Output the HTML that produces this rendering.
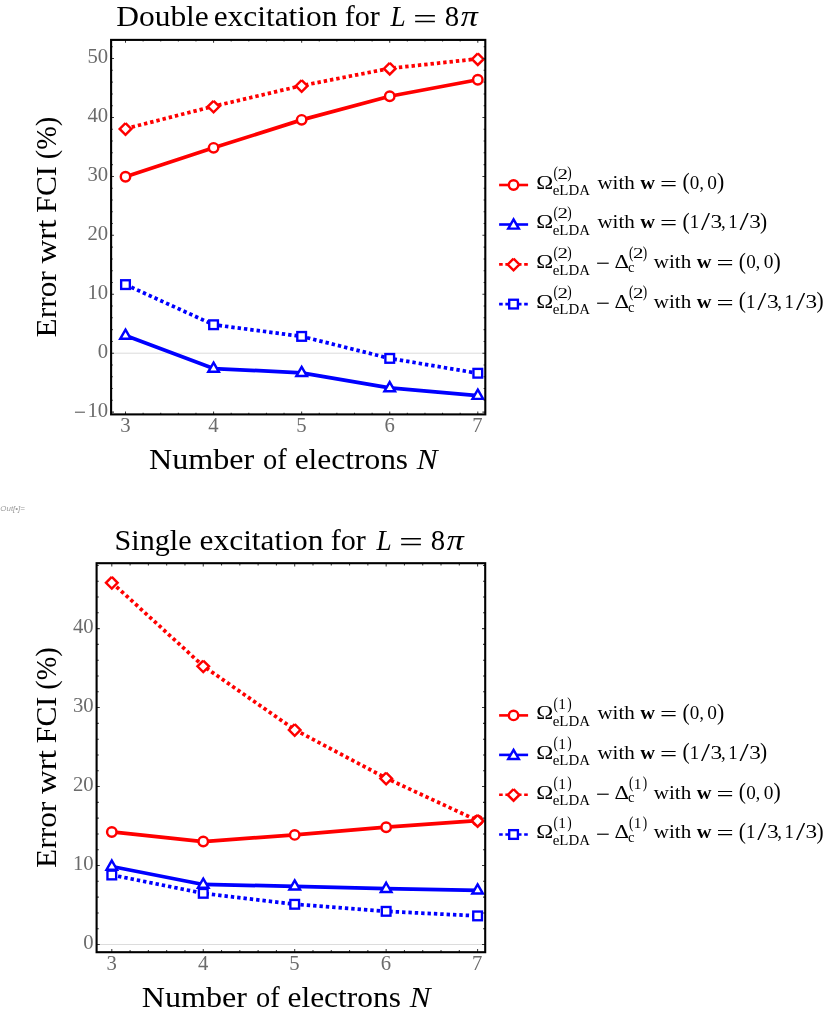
<!DOCTYPE html>
<html><head><meta charset="utf-8"><title>Excitation errors</title>
<style>html,body{margin:0;padding:0;background:#fff}svg{display:block;will-change:transform}text{font-family:"Liberation Serif",serif;white-space:pre;font-kerning:none}</style>
</head><body>
<svg width="830" height="1021" viewBox="0 0 830 1021">
<rect width="830" height="1021" fill="#fff"/>
<line x1="111.1" x2="485.3" y1="353.20" y2="353.20" stroke="#cdcdcd" stroke-width="0.7"/>
<clipPath id="c1"><rect x="111.1" y="39.9" width="374.20000000000005" height="374.5"/></clipPath>
<g clip-path="url(#c1)">
<path d="M125.50,176.70L213.57,147.83L301.65,119.84L389.73,96.27L477.80,79.76" fill="none" stroke="#ff0000" stroke-width="3.75" stroke-linejoin="round"/>
<circle cx="125.50" cy="176.70" r="4.72" fill="#fff" stroke="#ff0000" stroke-width="2.45"/>
<circle cx="213.57" cy="147.83" r="4.72" fill="#fff" stroke="#ff0000" stroke-width="2.45"/>
<circle cx="301.65" cy="119.84" r="4.72" fill="#fff" stroke="#ff0000" stroke-width="2.45"/>
<circle cx="389.73" cy="96.27" r="4.72" fill="#fff" stroke="#ff0000" stroke-width="2.45"/>
<circle cx="477.80" cy="79.76" r="4.72" fill="#fff" stroke="#ff0000" stroke-width="2.45"/>
<path d="M125.50,335.52L213.57,368.52L301.65,372.82L389.73,387.97L477.80,395.63" fill="none" stroke="#0000ff" stroke-width="3.75" stroke-linejoin="round"/>
<path d="M125.50,329.62L130.78,338.77L120.22,338.77Z" fill="#fff" stroke="#0000ff" stroke-width="2.45" stroke-linejoin="miter" stroke-miterlimit="10"/>
<path d="M213.57,362.62L218.86,371.77L208.29,371.77Z" fill="#fff" stroke="#0000ff" stroke-width="2.45" stroke-linejoin="miter" stroke-miterlimit="10"/>
<path d="M301.65,366.92L306.93,376.07L296.37,376.07Z" fill="#fff" stroke="#0000ff" stroke-width="2.45" stroke-linejoin="miter" stroke-miterlimit="10"/>
<path d="M389.73,382.07L395.01,391.22L384.44,391.22Z" fill="#fff" stroke="#0000ff" stroke-width="2.45" stroke-linejoin="miter" stroke-miterlimit="10"/>
<path d="M477.80,389.73L483.08,398.88L472.52,398.88Z" fill="#fff" stroke="#0000ff" stroke-width="2.45" stroke-linejoin="miter" stroke-miterlimit="10"/>
<path d="M125.50,128.68L213.57,106.28L301.65,85.66L389.73,68.39L477.80,58.84" fill="none" stroke="#ff0000" stroke-width="3.75" stroke-linejoin="round" stroke-dasharray="3.4 2.97"/>
<path d="M125.50,123.18L131.30,128.98L125.50,134.78L119.70,128.98L125.50,123.18" fill="#fff" stroke="#ff0000" stroke-width="2.45" stroke-linejoin="miter"/>
<path d="M213.57,100.78L219.38,106.58L213.57,112.38L207.77,106.58L213.57,100.78" fill="#fff" stroke="#ff0000" stroke-width="2.45" stroke-linejoin="miter"/>
<path d="M301.65,80.16L307.45,85.96L301.65,91.76L295.85,85.96L301.65,80.16" fill="#fff" stroke="#ff0000" stroke-width="2.45" stroke-linejoin="miter"/>
<path d="M389.73,62.89L395.53,68.69L389.73,74.49L383.93,68.69L389.73,62.89" fill="#fff" stroke="#ff0000" stroke-width="2.45" stroke-linejoin="miter"/>
<path d="M477.80,53.34L483.60,59.14L477.80,64.94L472.00,59.14L477.80,53.34" fill="#fff" stroke="#ff0000" stroke-width="2.45" stroke-linejoin="miter"/>
<path d="M125.50,284.61L213.57,324.74L301.65,336.40L389.73,358.39L477.80,373.24" fill="none" stroke="#0000ff" stroke-width="3.75" stroke-linejoin="round" stroke-dasharray="3.4 2.97"/>
<rect x="121.15" y="280.26" width="8.7" height="8.7" fill="#fff" stroke="#0000ff" stroke-width="2.35"/>
<rect x="209.22" y="320.39" width="8.7" height="8.7" fill="#fff" stroke="#0000ff" stroke-width="2.35"/>
<rect x="297.30" y="332.05" width="8.7" height="8.7" fill="#fff" stroke="#0000ff" stroke-width="2.35"/>
<rect x="385.38" y="354.04" width="8.7" height="8.7" fill="#fff" stroke="#0000ff" stroke-width="2.35"/>
<rect x="473.45" y="368.89" width="8.7" height="8.7" fill="#fff" stroke="#0000ff" stroke-width="2.35"/>
</g>
<path d="M125.50,414.4v-2.9M125.50,39.9v2.9M143.12,414.4v-1.7M143.12,39.9v1.7M160.73,414.4v-1.7M160.73,39.9v1.7M178.35,414.4v-1.7M178.35,39.9v1.7M195.96,414.4v-1.7M195.96,39.9v1.7M213.57,414.4v-2.9M213.57,39.9v2.9M231.19,414.4v-1.7M231.19,39.9v1.7M248.81,414.4v-1.7M248.81,39.9v1.7M266.42,414.4v-1.7M266.42,39.9v1.7M284.03,414.4v-1.7M284.03,39.9v1.7M301.65,414.4v-2.9M301.65,39.9v2.9M319.26,414.4v-1.7M319.26,39.9v1.7M336.88,414.4v-1.7M336.88,39.9v1.7M354.50,414.4v-1.7M354.50,39.9v1.7M372.11,414.4v-1.7M372.11,39.9v1.7M389.73,414.4v-2.9M389.73,39.9v2.9M407.34,414.4v-1.7M407.34,39.9v1.7M424.96,414.4v-1.7M424.96,39.9v1.7M442.57,414.4v-1.7M442.57,39.9v1.7M460.19,414.4v-1.7M460.19,39.9v1.7M477.80,414.4v-2.9M477.80,39.9v2.9M111.1,412.13h2.9M485.3,412.13h-2.9M111.1,400.34h1.7M485.3,400.34h-1.7M111.1,388.56h1.7M485.3,388.56h-1.7M111.1,376.77h1.7M485.3,376.77h-1.7M111.1,364.99h1.7M485.3,364.99h-1.7M111.1,353.20h2.9M485.3,353.20h-2.9M111.1,341.41h1.7M485.3,341.41h-1.7M111.1,329.63h1.7M485.3,329.63h-1.7M111.1,317.84h1.7M485.3,317.84h-1.7M111.1,306.06h1.7M485.3,306.06h-1.7M111.1,294.27h2.9M485.3,294.27h-2.9M111.1,282.48h1.7M485.3,282.48h-1.7M111.1,270.70h1.7M485.3,270.70h-1.7M111.1,258.91h1.7M485.3,258.91h-1.7M111.1,247.13h1.7M485.3,247.13h-1.7M111.1,235.34h2.9M485.3,235.34h-2.9M111.1,223.55h1.7M485.3,223.55h-1.7M111.1,211.77h1.7M485.3,211.77h-1.7M111.1,199.98h1.7M485.3,199.98h-1.7M111.1,188.20h1.7M485.3,188.20h-1.7M111.1,176.41h2.9M485.3,176.41h-2.9M111.1,164.62h1.7M485.3,164.62h-1.7M111.1,152.84h1.7M485.3,152.84h-1.7M111.1,141.05h1.7M485.3,141.05h-1.7M111.1,129.27h1.7M485.3,129.27h-1.7M111.1,117.48h2.9M485.3,117.48h-2.9M111.1,105.69h1.7M485.3,105.69h-1.7M111.1,93.91h1.7M485.3,93.91h-1.7M111.1,82.12h1.7M485.3,82.12h-1.7M111.1,70.34h1.7M485.3,70.34h-1.7M111.1,58.55h2.9M485.3,58.55h-2.9M111.1,46.76h1.7M485.3,46.76h-1.7" stroke="#383838" stroke-width="1.05" fill="none"/>
<rect x="111.1" y="39.9" width="374.20000000000005" height="374.5" fill="none" stroke="#000" stroke-width="2.1"/>
<text transform="matrix(1.0200 0 0 1 87.48 63.35)" font-size="20.3" fill="#6b6b6b">50</text>
<text transform="matrix(1.0200 0 0 1 87.48 122.28)" font-size="20.3" fill="#6b6b6b">40</text>
<text transform="matrix(1.0200 0 0 1 87.48 181.21)" font-size="20.3" fill="#6b6b6b">30</text>
<text transform="matrix(1.0200 0 0 1 87.48 240.14)" font-size="20.3" fill="#6b6b6b">20</text>
<text transform="matrix(1.0200 0 0 1 87.48 299.07)" font-size="20.3" fill="#6b6b6b">10</text>
<text transform="matrix(1.0200 0 0 1 97.84 358.00)" font-size="20.3" fill="#6b6b6b">0</text>
<text transform="matrix(1.0200 0 0 1 87.48 416.93)" font-size="20.3" fill="#6b6b6b">10</text>
<text transform="matrix(1.0745 0 0 1.2047 73.93 419.53)" font-size="20" fill="#6b6b6b">−</text>
<text transform="matrix(1.0200 0 0 1 120.23 432.40)" font-size="20.3" fill="#6b6b6b">3</text>
<text transform="matrix(1.0200 0 0 1 208.36 432.40)" font-size="20.3" fill="#6b6b6b">4</text>
<text transform="matrix(1.0200 0 0 1 296.28 432.40)" font-size="20.3" fill="#6b6b6b">5</text>
<text transform="matrix(1.0200 0 0 1 384.41 432.40)" font-size="20.3" fill="#6b6b6b">6</text>
<text transform="matrix(1.0200 0 0 1 472.24 432.40)" font-size="20.3" fill="#6b6b6b">7</text>
<text transform="matrix(1.0858 0 0 1 116.19 26.30)" font-size="29.0" fill="#000">Double</text>
<text transform="matrix(1.0827 0 0 1 213.67 26.30)" font-size="29.0" fill="#000">excitation</text>
<text transform="matrix(1.0377 0 0 1 344.77 26.30)" font-size="29.0" fill="#000">for</text>
<text transform="matrix(0.9407 0 0 1 390.62 26.30)" font-size="29.0" fill="#000" style="font-style:italic">L</text>
<text transform="matrix(2.1275 0 0 1.4400 412.98 29.16)" font-size="20" fill="#000">=</text>
<text transform="matrix(0.9926 0 0 1 444.80 26.30)" font-size="29.0" fill="#000">8</text>
<text transform="matrix(1.1539 0 0 1 460.82 26.30)" font-size="29.580000000000002" fill="#000" style="font-style:italic">π</text>
<text transform="matrix(1.1082 0 0 1 148.97 468.90)" font-size="29.0" fill="#000">Number</text>
<text transform="matrix(0.9804 0 0 1 263.12 468.90)" font-size="29.0" fill="#000">of</text>
<text transform="matrix(1.0840 0 0 1 294.67 468.90)" font-size="29.0" fill="#000">electrons</text>
<text transform="matrix(1.0765 0 0 1 416.83 468.90)" font-size="29.0" fill="#000" style="font-style:italic">N</text>
<text transform="translate(56.4,336.5) rotate(-90) matrix(1.0816 0 0 1 -0.90 0.00)" font-size="29.0" fill="#000">Error</text>
<text transform="translate(56.4,336.5) rotate(-90) matrix(1.1337 0 0 1 72.97 0.00)" font-size="29.0" fill="#000">wrt</text>
<text transform="translate(56.4,336.5) rotate(-90) matrix(1.0283 0 0 1 123.84 0.00)" font-size="29.0" fill="#000">FCI</text>
<text transform="translate(56.4,336.5) rotate(-90) matrix(0.9726 0 0 1 177.26 0.00)" font-size="29.0" fill="#000">(%)</text>
<path d="M499.1,185.00H528.1" stroke="#ff0000" stroke-width="2.6" fill="none"/>
<circle cx="513.55" cy="185.00" r="4.72" fill="#fff" stroke="#ff0000" stroke-width="2.45"/>
<text transform="matrix(1.2141 0 0 1 536.22 188.75)" font-size="18.8" fill="#000">Ω</text>
<text transform="matrix(0.6619 0 0 0.7885 553.42 178.19)" font-size="20" fill="#000">(</text>
<text transform="matrix(1.0477 0 0 0.6872 557.58 178.75)" font-size="20" fill="#000">2</text>
<text transform="matrix(0.6619 0 0 0.7885 567.17 178.19)" font-size="20" fill="#000">)</text>
<text transform="matrix(1.0509 0 0 1 552.72 195.35)" font-size="14.2" fill="#000">eLDA</text>
<text transform="matrix(1.1219 0 0 1 597.38 188.75)" font-size="18.8" fill="#000">with</text>
<text transform="matrix(1.0879 0 0 1 640.34 188.75)" font-size="18.8" fill="#000" style="font-weight:bold">w</text>
<text transform="matrix(1.5150 0 0 1.0600 659.99 190.74)" font-size="20" fill="#000">=</text>
<text transform="matrix(1.0707 0 0 1.1139 682.46 189.21)" font-size="20" fill="#000">(</text>
<text transform="matrix(0.9556 0 0 0.9781 689.77 188.86)" font-size="20" fill="#000">0</text>
<text transform="matrix(0.8729 0 0 0.9929 699.44 188.80)" font-size="20" fill="#000">,</text>
<text transform="matrix(0.9674 0 0 0.9781 707.26 188.86)" font-size="20" fill="#000">0</text>
<text transform="matrix(1.0902 0 0 1.1139 717.10 189.21)" font-size="20" fill="#000">)</text>
<path d="M499.1,224.50H528.1" stroke="#0000ff" stroke-width="2.6" fill="none"/>
<path d="M513.55,219.45L518.83,228.60L508.27,228.60Z" fill="#fff" stroke="#0000ff" stroke-width="2.45" stroke-linejoin="miter" stroke-miterlimit="10"/>
<text transform="matrix(1.2141 0 0 1 536.22 228.25)" font-size="18.8" fill="#000">Ω</text>
<text transform="matrix(0.6619 0 0 0.7885 553.42 217.69)" font-size="20" fill="#000">(</text>
<text transform="matrix(1.0477 0 0 0.6872 557.58 218.25)" font-size="20" fill="#000">2</text>
<text transform="matrix(0.6619 0 0 0.7885 567.17 217.69)" font-size="20" fill="#000">)</text>
<text transform="matrix(1.0509 0 0 1 552.72 234.85)" font-size="14.2" fill="#000">eLDA</text>
<text transform="matrix(1.1219 0 0 1 597.38 228.25)" font-size="18.8" fill="#000">with</text>
<text transform="matrix(1.0879 0 0 1 640.34 228.25)" font-size="18.8" fill="#000" style="font-weight:bold">w</text>
<text transform="matrix(1.5150 0 0 1.0600 659.99 230.24)" font-size="20" fill="#000">=</text>
<text transform="matrix(1.0707 0 0 1.1139 682.46 228.71)" font-size="20" fill="#000">(</text>
<text transform="matrix(0.9374 0 0 0.9846 689.65 228.25)" font-size="20" fill="#000">1</text>
<text transform="matrix(1.6197 0 0 1.3080 700.90 230.49)" font-size="20" fill="#000">/</text>
<text transform="matrix(1.1741 0 0 0.9898 710.58 228.36)" font-size="20" fill="#000">3</text>
<text transform="matrix(0.9401 0 0 0.9929 720.88 228.30)" font-size="20" fill="#000">,</text>
<text transform="matrix(0.9374 0 0 0.9846 728.15 228.25)" font-size="20" fill="#000">1</text>
<text transform="matrix(1.6557 0 0 1.3080 739.50 230.49)" font-size="20" fill="#000">/</text>
<text transform="matrix(1.1620 0 0 0.9898 749.19 228.36)" font-size="20" fill="#000">3</text>
<text transform="matrix(1.0707 0 0 1.1139 760.11 228.71)" font-size="20" fill="#000">)</text>
<path d="M499.1,264.40H528.6" stroke="#ff0000" stroke-width="2.6" stroke-dasharray="3.6 2.67" fill="none"/>
<path d="M513.55,258.70L519.35,264.50L513.55,270.30L507.75,264.50L513.55,258.70" fill="#fff" stroke="#ff0000" stroke-width="2.45" stroke-linejoin="miter"/>
<text transform="matrix(1.2141 0 0 1 536.22 268.15)" font-size="18.8" fill="#000">Ω</text>
<text transform="matrix(0.6619 0 0 0.7885 553.42 257.59)" font-size="20" fill="#000">(</text>
<text transform="matrix(1.0477 0 0 0.6872 557.58 258.15)" font-size="20" fill="#000">2</text>
<text transform="matrix(0.6619 0 0 0.7885 567.17 257.59)" font-size="20" fill="#000">)</text>
<text transform="matrix(1.0509 0 0 1 552.72 274.75)" font-size="14.2" fill="#000">eLDA</text>
<text transform="matrix(1.2464 0 0 1.2047 595.96 271.45)" font-size="20" fill="#000">−</text>
<text transform="matrix(1.2000 0 0 1 614.44 268.15)" font-size="18.8" fill="#000">Δ</text>
<text transform="matrix(0.6619 0 0 0.7885 628.92 257.59)" font-size="20" fill="#000">(</text>
<text transform="matrix(1.0477 0 0 0.6872 633.08 258.15)" font-size="20" fill="#000">2</text>
<text transform="matrix(0.6619 0 0 0.7885 642.67 257.59)" font-size="20" fill="#000">)</text>
<text transform="matrix(1.0329 0 0 1 628.04 272.05)" font-size="14.2" fill="#000">c</text>
<text transform="matrix(1.1219 0 0 1 653.78 268.15)" font-size="18.8" fill="#000">with</text>
<text transform="matrix(1.0879 0 0 1 696.74 268.15)" font-size="18.8" fill="#000" style="font-weight:bold">w</text>
<text transform="matrix(1.5150 0 0 1.0600 716.39 270.14)" font-size="20" fill="#000">=</text>
<text transform="matrix(1.0707 0 0 1.1139 738.86 268.61)" font-size="20" fill="#000">(</text>
<text transform="matrix(0.9556 0 0 0.9781 746.17 268.26)" font-size="20" fill="#000">0</text>
<text transform="matrix(0.8729 0 0 0.9929 755.84 268.20)" font-size="20" fill="#000">,</text>
<text transform="matrix(0.9674 0 0 0.9781 763.66 268.26)" font-size="20" fill="#000">0</text>
<text transform="matrix(1.0902 0 0 1.1139 773.50 268.61)" font-size="20" fill="#000">)</text>
<path d="M499.1,304.10H528.6" stroke="#0000ff" stroke-width="2.6" stroke-dasharray="3.6 2.67" fill="none"/>
<rect x="509.20" y="299.75" width="8.7" height="8.7" fill="#fff" stroke="#0000ff" stroke-width="2.35"/>
<text transform="matrix(1.2141 0 0 1 536.22 307.85)" font-size="18.8" fill="#000">Ω</text>
<text transform="matrix(0.6619 0 0 0.7885 553.42 297.29)" font-size="20" fill="#000">(</text>
<text transform="matrix(1.0477 0 0 0.6872 557.58 297.85)" font-size="20" fill="#000">2</text>
<text transform="matrix(0.6619 0 0 0.7885 567.17 297.29)" font-size="20" fill="#000">)</text>
<text transform="matrix(1.0509 0 0 1 552.72 314.45)" font-size="14.2" fill="#000">eLDA</text>
<text transform="matrix(1.2464 0 0 1.2047 595.96 311.15)" font-size="20" fill="#000">−</text>
<text transform="matrix(1.2000 0 0 1 614.44 307.85)" font-size="18.8" fill="#000">Δ</text>
<text transform="matrix(0.6619 0 0 0.7885 628.92 297.29)" font-size="20" fill="#000">(</text>
<text transform="matrix(1.0477 0 0 0.6872 633.08 297.85)" font-size="20" fill="#000">2</text>
<text transform="matrix(0.6619 0 0 0.7885 642.67 297.29)" font-size="20" fill="#000">)</text>
<text transform="matrix(1.0329 0 0 1 628.04 311.75)" font-size="14.2" fill="#000">c</text>
<text transform="matrix(1.1219 0 0 1 653.78 307.85)" font-size="18.8" fill="#000">with</text>
<text transform="matrix(1.0879 0 0 1 696.74 307.85)" font-size="18.8" fill="#000" style="font-weight:bold">w</text>
<text transform="matrix(1.5150 0 0 1.0600 716.39 309.84)" font-size="20" fill="#000">=</text>
<text transform="matrix(1.0707 0 0 1.1139 738.86 308.31)" font-size="20" fill="#000">(</text>
<text transform="matrix(0.9374 0 0 0.9846 746.05 307.85)" font-size="20" fill="#000">1</text>
<text transform="matrix(1.6197 0 0 1.3080 757.30 310.09)" font-size="20" fill="#000">/</text>
<text transform="matrix(1.1741 0 0 0.9898 766.98 307.96)" font-size="20" fill="#000">3</text>
<text transform="matrix(0.9401 0 0 0.9929 777.28 307.90)" font-size="20" fill="#000">,</text>
<text transform="matrix(0.9374 0 0 0.9846 784.55 307.85)" font-size="20" fill="#000">1</text>
<text transform="matrix(1.6557 0 0 1.3080 795.90 310.09)" font-size="20" fill="#000">/</text>
<text transform="matrix(1.1620 0 0 0.9898 805.59 307.96)" font-size="20" fill="#000">3</text>
<text transform="matrix(1.0707 0 0 1.1139 816.51 308.31)" font-size="20" fill="#000">)</text>
<text transform="matrix(1.1286 0 0 1 0.37 511.10)" font-size="7.0" fill="#9a9a9a" style="font-style:italic;font-family:'Liberation Sans',sans-serif">Out[•]=</text>
<line x1="96.6" x2="485.2" y1="944.50" y2="944.50" stroke="#cdcdcd" stroke-width="0.7"/>
<clipPath id="c2"><rect x="96.6" y="563.2" width="388.6" height="389.0"/></clipPath>
<g clip-path="url(#c2)">
<path d="M111.80,831.96L203.25,841.52L294.70,834.88L386.15,827.22L477.60,820.51" fill="none" stroke="#ff0000" stroke-width="3.75" stroke-linejoin="round"/>
<circle cx="111.80" cy="831.96" r="4.72" fill="#fff" stroke="#ff0000" stroke-width="2.45"/>
<circle cx="203.25" cy="841.52" r="4.72" fill="#fff" stroke="#ff0000" stroke-width="2.45"/>
<circle cx="294.70" cy="834.88" r="4.72" fill="#fff" stroke="#ff0000" stroke-width="2.45"/>
<circle cx="386.15" cy="827.22" r="4.72" fill="#fff" stroke="#ff0000" stroke-width="2.45"/>
<circle cx="477.60" cy="820.51" r="4.72" fill="#fff" stroke="#ff0000" stroke-width="2.45"/>
<path d="M111.80,866.47L203.25,884.48L294.70,886.30L386.15,888.66L477.60,890.32" fill="none" stroke="#0000ff" stroke-width="3.75" stroke-linejoin="round"/>
<path d="M111.80,860.57L117.08,869.72L106.52,869.72Z" fill="#fff" stroke="#0000ff" stroke-width="2.45" stroke-linejoin="miter" stroke-miterlimit="10"/>
<path d="M203.25,878.58L208.53,887.73L197.97,887.73Z" fill="#fff" stroke="#0000ff" stroke-width="2.45" stroke-linejoin="miter" stroke-miterlimit="10"/>
<path d="M294.70,880.40L299.98,889.55L289.42,889.55Z" fill="#fff" stroke="#0000ff" stroke-width="2.45" stroke-linejoin="miter" stroke-miterlimit="10"/>
<path d="M386.15,882.76L391.43,891.91L380.87,891.91Z" fill="#fff" stroke="#0000ff" stroke-width="2.45" stroke-linejoin="miter" stroke-miterlimit="10"/>
<path d="M477.60,884.42L482.88,893.57L472.32,893.57Z" fill="#fff" stroke="#0000ff" stroke-width="2.45" stroke-linejoin="miter" stroke-miterlimit="10"/>
<path d="M111.80,582.48L203.25,666.03L294.70,729.69L386.15,778.18L477.60,820.59" fill="none" stroke="#ff0000" stroke-width="3.75" stroke-linejoin="round" stroke-dasharray="3.4 2.97"/>
<path d="M111.80,576.98L117.60,582.78L111.80,588.58L106.00,582.78L111.80,576.98" fill="#fff" stroke="#ff0000" stroke-width="2.45" stroke-linejoin="miter"/>
<path d="M203.25,660.53L209.05,666.33L203.25,672.13L197.45,666.33L203.25,660.53" fill="#fff" stroke="#ff0000" stroke-width="2.45" stroke-linejoin="miter"/>
<path d="M294.70,724.19L300.50,729.99L294.70,735.79L288.90,729.99L294.70,724.19" fill="#fff" stroke="#ff0000" stroke-width="2.45" stroke-linejoin="miter"/>
<path d="M386.15,772.68L391.95,778.48L386.15,784.28L380.35,778.48L386.15,772.68" fill="#fff" stroke="#ff0000" stroke-width="2.45" stroke-linejoin="miter"/>
<path d="M477.60,815.09L483.40,820.89L477.60,826.69L471.80,820.89L477.60,815.09" fill="#fff" stroke="#ff0000" stroke-width="2.45" stroke-linejoin="miter"/>
<path d="M111.80,875.00L203.25,893.32L294.70,904.30L386.15,911.33L477.60,915.91" fill="none" stroke="#0000ff" stroke-width="3.75" stroke-linejoin="round" stroke-dasharray="3.4 2.97"/>
<rect x="107.45" y="870.65" width="8.7" height="8.7" fill="#fff" stroke="#0000ff" stroke-width="2.35"/>
<rect x="198.90" y="888.97" width="8.7" height="8.7" fill="#fff" stroke="#0000ff" stroke-width="2.35"/>
<rect x="290.35" y="899.95" width="8.7" height="8.7" fill="#fff" stroke="#0000ff" stroke-width="2.35"/>
<rect x="381.80" y="906.98" width="8.7" height="8.7" fill="#fff" stroke="#0000ff" stroke-width="2.35"/>
<rect x="473.25" y="911.56" width="8.7" height="8.7" fill="#fff" stroke="#0000ff" stroke-width="2.35"/>
</g>
<path d="M111.80,952.2v-3.2M111.80,563.2v3.2M130.09,952.2v-2.2M130.09,563.2v2.2M148.38,952.2v-2.2M148.38,563.2v2.2M166.67,952.2v-2.2M166.67,563.2v2.2M184.96,952.2v-2.2M184.96,563.2v2.2M203.25,952.2v-3.2M203.25,563.2v3.2M221.54,952.2v-2.2M221.54,563.2v2.2M239.83,952.2v-2.2M239.83,563.2v2.2M258.12,952.2v-2.2M258.12,563.2v2.2M276.41,952.2v-2.2M276.41,563.2v2.2M294.70,952.2v-3.2M294.70,563.2v3.2M312.99,952.2v-2.2M312.99,563.2v2.2M331.28,952.2v-2.2M331.28,563.2v2.2M349.57,952.2v-2.2M349.57,563.2v2.2M367.86,952.2v-2.2M367.86,563.2v2.2M386.15,952.2v-3.2M386.15,563.2v3.2M404.44,952.2v-2.2M404.44,563.2v2.2M422.73,952.2v-2.2M422.73,563.2v2.2M441.02,952.2v-2.2M441.02,563.2v2.2M459.31,952.2v-2.2M459.31,563.2v2.2M477.60,952.2v-3.2M477.60,563.2v3.2M96.6,944.50h3.2M485.2,944.50h-3.2M96.6,928.71h2.2M485.2,928.71h-2.2M96.6,912.91h2.2M485.2,912.91h-2.2M96.6,897.12h2.2M485.2,897.12h-2.2M96.6,881.32h2.2M485.2,881.32h-2.2M96.6,865.52h3.2M485.2,865.52h-3.2M96.6,849.73h2.2M485.2,849.73h-2.2M96.6,833.93h2.2M485.2,833.93h-2.2M96.6,818.14h2.2M485.2,818.14h-2.2M96.6,802.35h2.2M485.2,802.35h-2.2M96.6,786.55h3.2M485.2,786.55h-3.2M96.6,770.75h2.2M485.2,770.75h-2.2M96.6,754.96h2.2M485.2,754.96h-2.2M96.6,739.16h2.2M485.2,739.16h-2.2M96.6,723.37h2.2M485.2,723.37h-2.2M96.6,707.58h3.2M485.2,707.58h-3.2M96.6,691.78h2.2M485.2,691.78h-2.2M96.6,675.99h2.2M485.2,675.99h-2.2M96.6,660.19h2.2M485.2,660.19h-2.2M96.6,644.39h2.2M485.2,644.39h-2.2M96.6,628.60h3.2M485.2,628.60h-3.2M96.6,612.81h2.2M485.2,612.81h-2.2M96.6,597.01h2.2M485.2,597.01h-2.2M96.6,581.21h2.2M485.2,581.21h-2.2M96.6,565.42h2.2M485.2,565.42h-2.2" stroke="#383838" stroke-width="1.05" fill="none"/>
<rect x="96.6" y="563.2" width="388.6" height="389.0" fill="none" stroke="#000" stroke-width="2.1"/>
<text transform="matrix(1.0200 0 0 1 72.98 633.40)" font-size="20.3" fill="#6b6b6b">40</text>
<text transform="matrix(1.0200 0 0 1 72.98 712.38)" font-size="20.3" fill="#6b6b6b">30</text>
<text transform="matrix(1.0200 0 0 1 72.98 791.35)" font-size="20.3" fill="#6b6b6b">20</text>
<text transform="matrix(1.0200 0 0 1 72.98 870.32)" font-size="20.3" fill="#6b6b6b">10</text>
<text transform="matrix(1.0200 0 0 1 83.34 949.30)" font-size="20.3" fill="#6b6b6b">0</text>
<text transform="matrix(1.0200 0 0 1 106.53 970.20)" font-size="20.3" fill="#6b6b6b">3</text>
<text transform="matrix(1.0200 0 0 1 198.03 970.20)" font-size="20.3" fill="#6b6b6b">4</text>
<text transform="matrix(1.0200 0 0 1 289.33 970.20)" font-size="20.3" fill="#6b6b6b">5</text>
<text transform="matrix(1.0200 0 0 1 380.84 970.20)" font-size="20.3" fill="#6b6b6b">6</text>
<text transform="matrix(1.0200 0 0 1 472.04 970.20)" font-size="20.3" fill="#6b6b6b">7</text>
<text transform="matrix(1.0384 0 0 1 114.59 549.60)" font-size="29.0" fill="#000">Single</text>
<text transform="matrix(1.0827 0 0 1 199.57 549.60)" font-size="29.0" fill="#000">excitation</text>
<text transform="matrix(1.0377 0 0 1 330.67 549.60)" font-size="29.0" fill="#000">for</text>
<text transform="matrix(0.9407 0 0 1 376.52 549.60)" font-size="29.0" fill="#000" style="font-style:italic">L</text>
<text transform="matrix(2.1275 0 0 1.4400 398.88 552.46)" font-size="20" fill="#000">=</text>
<text transform="matrix(0.9926 0 0 1 430.70 549.60)" font-size="29.0" fill="#000">8</text>
<text transform="matrix(1.1539 0 0 1 446.72 549.60)" font-size="29.580000000000002" fill="#000" style="font-style:italic">π</text>
<text transform="matrix(1.1082 0 0 1 141.77 1006.50)" font-size="29.0" fill="#000">Number</text>
<text transform="matrix(0.9804 0 0 1 255.92 1006.50)" font-size="29.0" fill="#000">of</text>
<text transform="matrix(1.0840 0 0 1 287.47 1006.50)" font-size="29.0" fill="#000">electrons</text>
<text transform="matrix(1.0765 0 0 1 409.63 1006.50)" font-size="29.0" fill="#000" style="font-style:italic">N</text>
<text transform="translate(56.4,867.0) rotate(-90) matrix(1.0816 0 0 1 -0.90 0.00)" font-size="29.0" fill="#000">Error</text>
<text transform="translate(56.4,867.0) rotate(-90) matrix(1.1337 0 0 1 72.97 0.00)" font-size="29.0" fill="#000">wrt</text>
<text transform="translate(56.4,867.0) rotate(-90) matrix(1.0283 0 0 1 123.84 0.00)" font-size="29.0" fill="#000">FCI</text>
<text transform="translate(56.4,867.0) rotate(-90) matrix(0.9726 0 0 1 177.26 0.00)" font-size="29.0" fill="#000">(%)</text>
<path d="M499.1,715.40H528.1" stroke="#ff0000" stroke-width="2.6" fill="none"/>
<circle cx="513.55" cy="715.40" r="4.72" fill="#fff" stroke="#ff0000" stroke-width="2.45"/>
<text transform="matrix(1.2141 0 0 1 536.22 719.15)" font-size="18.8" fill="#000">Ω</text>
<text transform="matrix(0.6619 0 0 0.7885 553.42 708.59)" font-size="20" fill="#000">(</text>
<text transform="matrix(0.7669 0 0 0.6892 558.35 709.15)" font-size="20" fill="#000">1</text>
<text transform="matrix(0.6619 0 0 0.7885 567.17 708.59)" font-size="20" fill="#000">)</text>
<text transform="matrix(1.0509 0 0 1 552.72 725.75)" font-size="14.2" fill="#000">eLDA</text>
<text transform="matrix(1.1219 0 0 1 597.38 719.15)" font-size="18.8" fill="#000">with</text>
<text transform="matrix(1.0879 0 0 1 640.34 719.15)" font-size="18.8" fill="#000" style="font-weight:bold">w</text>
<text transform="matrix(1.5150 0 0 1.0600 659.99 721.14)" font-size="20" fill="#000">=</text>
<text transform="matrix(1.0707 0 0 1.1139 682.46 719.61)" font-size="20" fill="#000">(</text>
<text transform="matrix(0.9556 0 0 0.9781 689.77 719.26)" font-size="20" fill="#000">0</text>
<text transform="matrix(0.8729 0 0 0.9929 699.44 719.20)" font-size="20" fill="#000">,</text>
<text transform="matrix(0.9674 0 0 0.9781 707.26 719.26)" font-size="20" fill="#000">0</text>
<text transform="matrix(1.0902 0 0 1.1139 717.10 719.61)" font-size="20" fill="#000">)</text>
<path d="M499.1,754.90H528.1" stroke="#0000ff" stroke-width="2.6" fill="none"/>
<path d="M513.55,749.85L518.83,759.00L508.27,759.00Z" fill="#fff" stroke="#0000ff" stroke-width="2.45" stroke-linejoin="miter" stroke-miterlimit="10"/>
<text transform="matrix(1.2141 0 0 1 536.22 758.65)" font-size="18.8" fill="#000">Ω</text>
<text transform="matrix(0.6619 0 0 0.7885 553.42 748.09)" font-size="20" fill="#000">(</text>
<text transform="matrix(0.7669 0 0 0.6892 558.35 748.65)" font-size="20" fill="#000">1</text>
<text transform="matrix(0.6619 0 0 0.7885 567.17 748.09)" font-size="20" fill="#000">)</text>
<text transform="matrix(1.0509 0 0 1 552.72 765.25)" font-size="14.2" fill="#000">eLDA</text>
<text transform="matrix(1.1219 0 0 1 597.38 758.65)" font-size="18.8" fill="#000">with</text>
<text transform="matrix(1.0879 0 0 1 640.34 758.65)" font-size="18.8" fill="#000" style="font-weight:bold">w</text>
<text transform="matrix(1.5150 0 0 1.0600 659.99 760.64)" font-size="20" fill="#000">=</text>
<text transform="matrix(1.0707 0 0 1.1139 682.46 759.11)" font-size="20" fill="#000">(</text>
<text transform="matrix(0.9374 0 0 0.9846 689.65 758.65)" font-size="20" fill="#000">1</text>
<text transform="matrix(1.6197 0 0 1.3080 700.90 760.89)" font-size="20" fill="#000">/</text>
<text transform="matrix(1.1741 0 0 0.9898 710.58 758.76)" font-size="20" fill="#000">3</text>
<text transform="matrix(0.9401 0 0 0.9929 720.88 758.70)" font-size="20" fill="#000">,</text>
<text transform="matrix(0.9374 0 0 0.9846 728.15 758.65)" font-size="20" fill="#000">1</text>
<text transform="matrix(1.6557 0 0 1.3080 739.50 760.89)" font-size="20" fill="#000">/</text>
<text transform="matrix(1.1620 0 0 0.9898 749.19 758.76)" font-size="20" fill="#000">3</text>
<text transform="matrix(1.0707 0 0 1.1139 760.11 759.11)" font-size="20" fill="#000">)</text>
<path d="M499.1,794.80H528.6" stroke="#ff0000" stroke-width="2.6" stroke-dasharray="3.6 2.67" fill="none"/>
<path d="M513.55,789.10L519.35,794.90L513.55,800.70L507.75,794.90L513.55,789.10" fill="#fff" stroke="#ff0000" stroke-width="2.45" stroke-linejoin="miter"/>
<text transform="matrix(1.2141 0 0 1 536.22 798.55)" font-size="18.8" fill="#000">Ω</text>
<text transform="matrix(0.6619 0 0 0.7885 553.42 787.99)" font-size="20" fill="#000">(</text>
<text transform="matrix(0.7669 0 0 0.6892 558.35 788.55)" font-size="20" fill="#000">1</text>
<text transform="matrix(0.6619 0 0 0.7885 567.17 787.99)" font-size="20" fill="#000">)</text>
<text transform="matrix(1.0509 0 0 1 552.72 805.15)" font-size="14.2" fill="#000">eLDA</text>
<text transform="matrix(1.2464 0 0 1.2047 595.96 801.85)" font-size="20" fill="#000">−</text>
<text transform="matrix(1.2000 0 0 1 614.44 798.55)" font-size="18.8" fill="#000">Δ</text>
<text transform="matrix(0.6619 0 0 0.7885 628.92 787.99)" font-size="20" fill="#000">(</text>
<text transform="matrix(0.7669 0 0 0.6892 633.85 788.55)" font-size="20" fill="#000">1</text>
<text transform="matrix(0.6619 0 0 0.7885 642.67 787.99)" font-size="20" fill="#000">)</text>
<text transform="matrix(1.0329 0 0 1 628.04 802.45)" font-size="14.2" fill="#000">c</text>
<text transform="matrix(1.1219 0 0 1 653.78 798.55)" font-size="18.8" fill="#000">with</text>
<text transform="matrix(1.0879 0 0 1 696.74 798.55)" font-size="18.8" fill="#000" style="font-weight:bold">w</text>
<text transform="matrix(1.5150 0 0 1.0600 716.39 800.54)" font-size="20" fill="#000">=</text>
<text transform="matrix(1.0707 0 0 1.1139 738.86 799.01)" font-size="20" fill="#000">(</text>
<text transform="matrix(0.9556 0 0 0.9781 746.17 798.66)" font-size="20" fill="#000">0</text>
<text transform="matrix(0.8729 0 0 0.9929 755.84 798.60)" font-size="20" fill="#000">,</text>
<text transform="matrix(0.9674 0 0 0.9781 763.66 798.66)" font-size="20" fill="#000">0</text>
<text transform="matrix(1.0902 0 0 1.1139 773.50 799.01)" font-size="20" fill="#000">)</text>
<path d="M499.1,834.50H528.6" stroke="#0000ff" stroke-width="2.6" stroke-dasharray="3.6 2.67" fill="none"/>
<rect x="509.20" y="830.15" width="8.7" height="8.7" fill="#fff" stroke="#0000ff" stroke-width="2.35"/>
<text transform="matrix(1.2141 0 0 1 536.22 838.25)" font-size="18.8" fill="#000">Ω</text>
<text transform="matrix(0.6619 0 0 0.7885 553.42 827.69)" font-size="20" fill="#000">(</text>
<text transform="matrix(0.7669 0 0 0.6892 558.35 828.25)" font-size="20" fill="#000">1</text>
<text transform="matrix(0.6619 0 0 0.7885 567.17 827.69)" font-size="20" fill="#000">)</text>
<text transform="matrix(1.0509 0 0 1 552.72 844.85)" font-size="14.2" fill="#000">eLDA</text>
<text transform="matrix(1.2464 0 0 1.2047 595.96 841.55)" font-size="20" fill="#000">−</text>
<text transform="matrix(1.2000 0 0 1 614.44 838.25)" font-size="18.8" fill="#000">Δ</text>
<text transform="matrix(0.6619 0 0 0.7885 628.92 827.69)" font-size="20" fill="#000">(</text>
<text transform="matrix(0.7669 0 0 0.6892 633.85 828.25)" font-size="20" fill="#000">1</text>
<text transform="matrix(0.6619 0 0 0.7885 642.67 827.69)" font-size="20" fill="#000">)</text>
<text transform="matrix(1.0329 0 0 1 628.04 842.15)" font-size="14.2" fill="#000">c</text>
<text transform="matrix(1.1219 0 0 1 653.78 838.25)" font-size="18.8" fill="#000">with</text>
<text transform="matrix(1.0879 0 0 1 696.74 838.25)" font-size="18.8" fill="#000" style="font-weight:bold">w</text>
<text transform="matrix(1.5150 0 0 1.0600 716.39 840.24)" font-size="20" fill="#000">=</text>
<text transform="matrix(1.0707 0 0 1.1139 738.86 838.71)" font-size="20" fill="#000">(</text>
<text transform="matrix(0.9374 0 0 0.9846 746.05 838.25)" font-size="20" fill="#000">1</text>
<text transform="matrix(1.6197 0 0 1.3080 757.30 840.49)" font-size="20" fill="#000">/</text>
<text transform="matrix(1.1741 0 0 0.9898 766.98 838.36)" font-size="20" fill="#000">3</text>
<text transform="matrix(0.9401 0 0 0.9929 777.28 838.30)" font-size="20" fill="#000">,</text>
<text transform="matrix(0.9374 0 0 0.9846 784.55 838.25)" font-size="20" fill="#000">1</text>
<text transform="matrix(1.6557 0 0 1.3080 795.90 840.49)" font-size="20" fill="#000">/</text>
<text transform="matrix(1.1620 0 0 0.9898 805.59 838.36)" font-size="20" fill="#000">3</text>
<text transform="matrix(1.0707 0 0 1.1139 816.51 838.71)" font-size="20" fill="#000">)</text>
</svg></body></html>
